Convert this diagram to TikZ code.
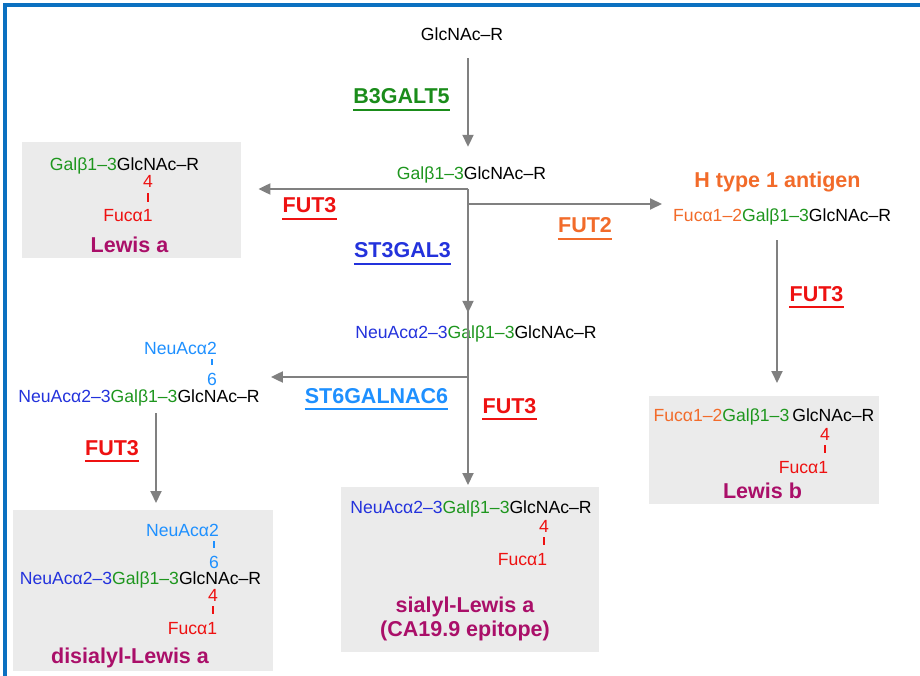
\documentclass[tikz,border=0pt]{standalone}
\usepackage{fontspec}
\setmainfont{Liberation Sans}
\usetikzlibrary{arrows.meta}
\definecolor{cgreen}{RGB}{30,150,30}
\definecolor{cgreenb}{RGB}{26,140,26}
\definecolor{cblue}{RGB}{35,50,220}
\definecolor{clblue}{RGB}{30,144,255}
\definecolor{cred}{RGB}{238,17,17}
\definecolor{corange}{RGB}{242,107,42}
\definecolor{cmag}{RGB}{170,15,105}
\definecolor{cbox}{RGB}{235,235,235}
\definecolor{cgray}{RGB}{128,128,128}
\definecolor{cframe}{RGB}{11,112,192}
\newcommand\enzlabel[4]{%
  \node[enz, text=#3] (#1) at #2 {#4};
  \draw[#3, line width=2pt] ([yshift=-6pt]#1.south west) -- ([yshift=-6pt]#1.south east);}
\begin{document}
\begin{tikzpicture}[x=1pt,y=-1pt,
  chain/.style={inner sep=0pt, anchor=base, font=\fontsize{17.6}{20}\selectfont, text height=12.5pt, text depth=0pt},
  lbl/.style={inner sep=0pt, anchor=base, font=\fontsize{21.5}{24}\selectfont\bfseries, text=cmag},
  enz/.style={inner sep=0pt, anchor=base, font=\fontsize{21.5}{24}\selectfont\bfseries, text height=15.5pt, text depth=0pt},
  box/.style={fill=cbox, inner sep=0pt, anchor=north west},
  arr/.style={draw=cgray, line width=2pt, -{Triangle[width=11pt,length=12pt]}},
  bar/.style={line width=1.3pt, shorten <=5pt, shorten >=7pt},
]
\useasboundingbox (0,0) rectangle (920,676);
\fill[white] (0,0) rectangle (920,676);
% frame
\draw[cframe, line width=3.5pt] (920,5) -- (5,5) -- (5,676);

% boxes
\node[box, minimum width=219pt, minimum height=116pt] (leabox) at (22,142) {};
\node[box, minimum width=230pt, minimum height=108pt] (lebbox) at (649,396) {};
\node[box, minimum width=260pt, minimum height=161pt] (dibox) at (13,510) {};
\node[box, minimum width=258pt, minimum height=165pt] (slbox) at (341,487) {};

% junction coordinates
\coordinate (j1) at (468,189);
\coordinate (j2) at (468,204);
\coordinate (j3) at (468,377);
\coordinate (cx777) at (777,0);
\coordinate (cx156) at (156,0);

% top
\node[chain] (glc) at (462,41) {GlcNAc–R};
\node[chain] (gal) at (471.5,180) {{\color{cgreen}Galβ1–3}GlcNAc–R};

% Lewis a
\node[chain] (leamain) at (124.5,171) {{\color{cgreen}Galβ1–3}GlcNAc–R};
\node[chain, text=cred] (lea4) at (148,188) {4};
\node[chain, text=cred] (leafuc) at (128,222) {Fucα1};
\draw[bar, cred] (lea4.south) -- (lea4.south |- leafuc.north);
\node[lbl] (lealbl) at (129.5,252) {Lewis a};

% H type 1
\node[lbl, text=corange] (hlbl) at (777.5,188) {H type 1 antigen};
\node[chain, anchor=base west] (hchain) at (673,222) {{\color{corange}Fucα1–2}{\color{cgreen}Galβ1–3}GlcNAc–R};

% Lewis b
\node[chain] (lebmain) at (764,421) {{\color{corange}Fucα1–2}{\color{cgreen}Galβ1–3}\hspace{3pt}GlcNAc–R};
\node[chain, text=cred] (leb4) at (825,440) {4};
\node[chain, text=cred] (lebfuc) at (803.5,473) {Fucα1};
\draw[bar, cred] (leb4.south) -- (leb4.south |- lebfuc.north);
\node[lbl] (leblbl) at (762.5,498) {Lewis b};

% sialyl chain
\node[chain] (sia) at (476,338) {{\color{cblue}NeuAcα2–3}{\color{cgreen}Galβ1–3}GlcNAc–R};

% disialyl intermediate
\node[chain, text=clblue] (dineu) at (180.5,354) {NeuAcα2};
\node[chain, text=clblue] (di6) at (212,385) {6};
\draw[bar, clblue] (dineu.south -| di6) -- (di6.north);
\node[chain] (dimain) at (139,402) {{\color{cblue}NeuAcα2–3}{\color{cgreen}Galβ1–3}GlcNAc–R};

% disialyl-Lewis a
\node[chain, text=clblue] (dbneu) at (182.5,536) {NeuAcα2};
\node[chain, text=clblue] (db6) at (214,568) {6};
\draw[bar, clblue] (dbneu.south -| db6) -- (db6.north);
\node[chain] (dbmain) at (140.5,584) {{\color{cblue}NeuAcα2–3}{\color{cgreen}Galβ1–3}GlcNAc–R};
\node[chain, text=cred] (db4) at (213,601) {4};
\node[chain, text=cred] (dbfuc) at (192.5,634) {Fucα1};
\draw[bar, cred] (db4.south) -- (db4.south |- dbfuc.north);
\node[lbl] (dblbl) at (130,663) {disialyl-Lewis a};

% sialyl-Lewis a
\node[chain] (slmain) at (471,513) {{\color{cblue}NeuAcα2–3}{\color{cgreen}Galβ1–3}GlcNAc–R};
\node[chain, text=cred] (sl4) at (544,532) {4};
\node[chain, text=cred] (slfuc) at (522.5,565) {Fucα1};
\draw[bar, cred] (sl4.south) -- (sl4.south |- slfuc.north);
\node[lbl] (sllbl1) at (465,612) {sialyl-Lewis a};
\node[lbl] (sllbl2) at (465,636) {(CA19.9 epitope)};

% enzymes
\enzlabel{b3}{(401.5,104)}{cgreenb}{B3GALT5}
\enzlabel{fut3a}{(309.5,213)}{cred}{FUT3}
\enzlabel{st3}{(402.5,258)}{cblue}{ST3GAL3}
\enzlabel{fut2}{(585,233)}{corange}{FUT2}
\enzlabel{fut3b}{(816.5,301)}{cred}{FUT3}
\enzlabel{st6}{(376.5,403)}{clblue}{ST6GALNAC6}
\enzlabel{fut3c}{(509.5,413)}{cred}{FUT3}
\enzlabel{fut3d}{(112,455)}{cred}{FUT3}

% arrows
\draw[arr, shorten <=17pt, shorten >=20.5pt] (glc.south -| j1) -- (gal.north -| j1);
\draw[draw=cgray, line width=2pt] (j1) -- (j3);
\draw[arr, shorten >=17pt] (j1) -- (leabox.east |- j1);
\draw[arr, shorten >=12.5pt] (j1) -- (sia.north -| j1);
\draw[arr, shorten >=11pt] (j2) -- (hchain.west |- j2);
\draw[arr, shorten <=18pt, shorten >=13pt] (hchain.south -| cx777) -- (lebbox.north -| cx777);
\draw[arr, shorten <=14pt, shorten >=2pt] (sia.south -| j1) -- (slbox.north -| j1);
\draw[arr, shorten >=11pt] (j3) -- (dimain.east |- j3);
\draw[arr, shorten <=11pt, shorten >=7pt] (dimain.south -| cx156) -- (dibox.north -| cx156);
\end{tikzpicture}
\end{document}
